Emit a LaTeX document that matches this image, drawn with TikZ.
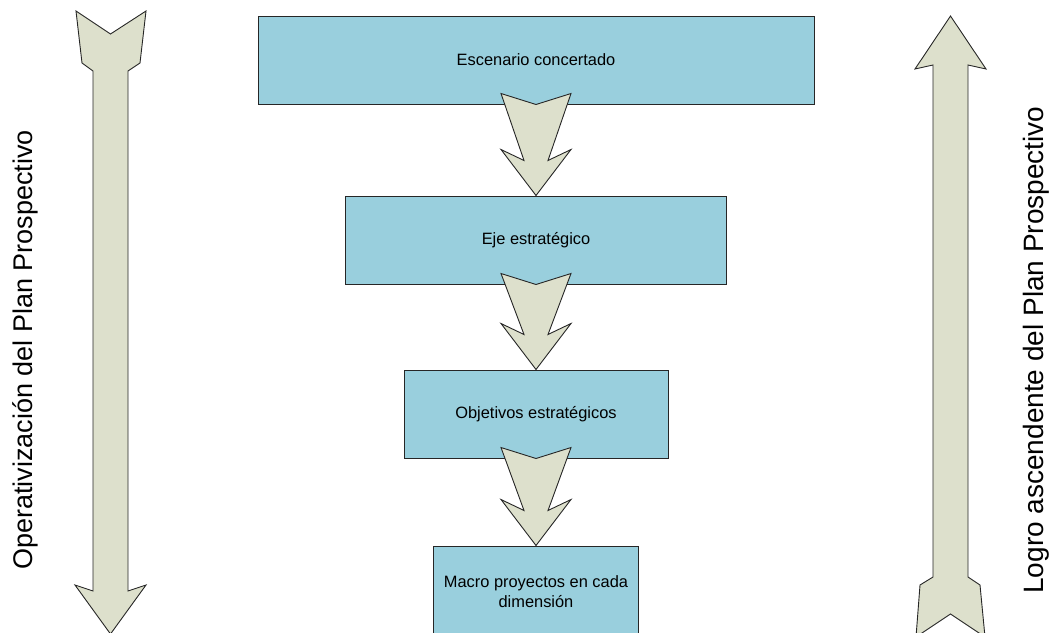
\documentclass[tikz,border=0pt]{standalone}
\usepackage{fontspec}
\setmainfont{Liberation Sans}
\usepackage{tikz}
\usetikzlibrary{shapes,arrows,positioning,calc}
\definecolor{cajaazul}{RGB}{153,207,221}
\definecolor{flechagris}{RGB}{221,224,204}
\tikzstyle{etapa} = [rectangle, draw=black!85, line width=1pt, fill=cajaazul, text centered, align=center, minimum height=88pt, font=\fontsize{16.4}{20}\selectfont]
\tikzstyle{chev} = [draw=black!85, line width=0.9pt, fill=flechagris, line join=miter]
\tikzstyle{lado} = [rotate=90, font=\fontsize{27}{32}\selectfont]
\newcommand{\flechita}[2]{%
  \draw[chev] ($(#1.south)+(-35,-11)$) -- (#1.south) -- ($(#1.south)+(35,-11)$)
    -- ($(#2.north)+(12,-35)$) -- ($(#2.north)+(35,-46)$) -- (#2.north)
    -- ($(#2.north)+(-35,-46)$) -- ($(#2.north)+(-12,-35)$) -- cycle;}

\begin{document}
\begin{tikzpicture}[x=1pt, y=-1pt]
    \clip (0,0) rectangle (1049,632);
    \node[etapa, minimum width=556pt] (esc) at (536,60) {Escenario concertado};
    \node[etapa, minimum width=381pt, below=91pt of esc] (eje) {Eje estratégico};
    \node[etapa, minimum width=264pt, below=85pt of eje] (obj) {Objetivos estratégicos};
    \node[etapa, minimum width=205pt, minimum height=92pt, below=87pt of obj] (mac) {Macro proyectos en cada\\dimensión};
    \flechita{esc}{eje}
    \flechita{eje}{obj}
    \flechita{obj}{mac}
    \draw[chev] (76,11) -- (110.5,34) -- (146,11) -- (140,63) -- (128,71) -- (128,591)
      -- (146,585) -- (110.5,634) -- (75,585) -- (93,591) -- (93,71) -- (82,63) -- cycle;
    \draw[chev] (950.5,16) -- (986,69) -- (968,65) -- (968,577) -- (980,585) -- (985,637)
      -- (950.5,614) -- (916,637) -- (920,585) -- (933,577) -- (933,65) -- (915,69) -- cycle;
    \node[lado] (opera) at (25,350) {Operativización del Plan Prospectivo};
    \node[lado, font=\fontsize{28}{32}\selectfont] (logro) at (1036,350) {Logro ascendente del Plan Prospectivo};
\end{tikzpicture}
\end{document}
